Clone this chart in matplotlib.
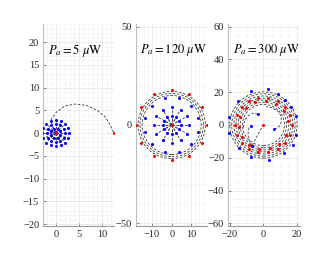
import numpy as np
import matplotlib.pyplot as plt
from matplotlib.patches import Circle
from matplotlib.ticker import MultipleLocator

plt.rcParams['font.family'] = 'Liberation Serif'
plt.rcParams['mathtext.fontset'] = 'stix'

# ---- panel 1 : Pa = 5 uW ----
p1_label = r'$P_a = 5\ \mu\mathrm{W}$'
p1_ring_r = [1.1, 2.0, 2.9]
p1_ring_deg = [
    [22.5, 67.5, 112.5, 157.5, 202.5, 247.5, 292.5, 337.5],
    [0, 30, 60, 90, 120, 150, 180, 210, 240, 270, 300, 330],
    [0, 22.5, 45, 67.5, 90, 112.5, 135, 157.5, 180, 202.5, 225, 247.5, 270, 292.5, 315, 337.5],
]
p1_red_x = [0.0, 12.6]
p1_red_y = [0.0, 0.0]
p1_path_x = [-1.1, 0.2, 2.0, 4.2, 6.7, 8.9, 10.7, 11.8, 12.6]
p1_path_y = [2.9, 4.7, 6.0, 6.4, 6.1, 5.1, 3.6, 1.8, 0.0]

# ---- panel 2 : Pa = 120 uW ----
p2_label = r'$P_a = 120\ \mu\mathrm{W}$'
p2_spoke_deg = [0, 30, 60, 90, 120, 150, 180, 210, 240, 270, 300, 330]
p2_spoke_r = [4.5, 9.0]
p2_outer_deg = [15, 45, 75, 105, 135, 165, 195, 225, 255, 285, 315, 345]
p2_outer_r = 14.0
p2_red_deg = [0, 30, 60, 90, 120, 150, 180, 210, 240, 270, 300, 330]
p2_red_r = 17.9
p2_ring_r = [15.0, 16.1, 17.1]

# ---- panel 3 : Pa = 300 uW ----
p3_label = r'$P_a = 300\ \mu\mathrm{W}$'
p3_blue_x = [2.6, -7.4, -15.5, -20.9, -20.5, -14.8, -7.4, 3.6, 12.6, 17.5, 19.5, 19.5, 16.7, 13.2, 8.6,
             -3.4, 6.6, -7.4, -7.0]
p3_blue_y = [22.0, 20.7, 14.6, 5.1, -5.1, -14.2, -19.3, -21.3, -17.3, -12.5, -6.1, 5.5, 11.0, 15.5, 19.0,
             6.5, -2.6, -0.6, -12.8]
p3_red_in_deg = [10, 35, 60, 85, 110, 135, 160, 185, 210, 235, 260, 285, 310, 335]
p3_red_in_r = 14.8
p3_red_out_deg = [0, 20, 40, 60, 80, 100, 120, 140, 160, 180, 200, 220, 240, 260, 280, 300, 320, 340]
p3_red_out_r = 17.0
p3_ring_r = [12.6, 13.9, 15.2, 16.4, 17.7, 19.0, 20.2]
p3_curves = [
    ([-3.4, -6.0, -8.8, -10.8, -11.8, -12.0], [6.5, 7.2, 6.0, 3.5, 0.5, -2.5]),
    ([6.6, 9.2, 10.8, 10.6, 8.5, 5.0, 1.5], [-2.6, -1.2, 2.0, 5.5, 8.6, 10.6, 11.2]),
    ([-7.0, -8.5, -9.2, -8.6, -7.4], [-12.8, -9.0, -5.0, -1.5, -0.6]),
    ([0.0, -7.0], [0.3, -12.8]),
]

blue = '#0000ff'
red = '#ff0000'
dash = dict(color='#3a3a3a', lw=0.6, ls=(0, (3, 2)))


def polar_xy(r, deg):
    a = np.deg2rad(np.array(deg))
    return r * np.cos(a), r * np.sin(a)


def dots(ax, x, y, c):
    ax.plot(x, y, 'o', color=c, ms=2.2, mew=0, zorder=4)


def style(ax, xlim, ylim, xt, yt, xminor, yminor, label):
    ax.set_xlim(xlim)
    ax.set_ylim(ylim)
    ax.set_xticks(xt)
    ax.set_yticks(yt)
    ax.xaxis.set_minor_locator(MultipleLocator(xminor))
    ax.yaxis.set_minor_locator(MultipleLocator(yminor))
    ax.grid(True, which='major', color='#e4e4e4', lw=0.5)
    ax.grid(True, which='minor', color='#f1f1f1', lw=0.4)
    ax.set_axisbelow(True)
    for s in ['top', 'right']:
        ax.spines[s].set_visible(False)
    ax.spines['left'].set_color('#bdbdbd')
    ax.spines['bottom'].set_color('#9a9a9a')
    ax.spines['left'].set_linewidth(0.8)
    ax.spines['bottom'].set_linewidth(0.8)
    ax.tick_params(which='major', direction='in', length=2, width=0.5, color='#555555',
                   labelsize=7.5, labelcolor='#262626', pad=3)
    ax.tick_params(which='minor', length=0)
    ax.text(0.06, 0.871, label, transform=ax.transAxes, ha='left', va='center', fontsize=9)


fig = plt.figure(figsize=(3.31, 2.59), dpi=100)
ax1 = fig.add_axes([0.131, 0.1274, 0.2145, 0.78])
ax2 = fig.add_axes([0.411, 0.1274, 0.2154, 0.78])
ax3 = fig.add_axes([0.690, 0.1274, 0.2166, 0.78])

# panel 1
for r, deg in zip(p1_ring_r, p1_ring_deg):
    bx, by = polar_xy(r, deg)
    for x, y in zip(bx, by):
        ax1.plot([0, x], [0, y], **dash)
    dots(ax1, bx, by, blue)
ax1.plot(p1_path_x, p1_path_y, **dash)
dots(ax1, p1_red_x, p1_red_y, red)
style(ax1, (-2.7, 12.7), (-20.4, 24.0), [0, 5, 10], np.arange(-20, 25, 5), 1, 1, p1_label)

# panel 2
for r in p2_ring_r:
    ax2.add_patch(Circle((0, 0), r, fill=False, **dash))
for r in p2_spoke_r:
    bx, by = polar_xy(r, p2_spoke_deg)
    for x, y in zip(bx, by):
        ax2.plot([0, x], [0, y], **dash)
    dots(ax2, bx, by, blue)
bx, by = polar_xy(p2_outer_r, p2_outer_deg)
dots(ax2, bx, by, blue)
rx, ry = polar_xy(p2_red_r, p2_red_deg)
dots(ax2, rx, ry, red)
dots(ax2, [0], [0], red)
style(ax2, (-18.1, 18.1), (-51.3, 51.3), [-10, 0, 10], [-50, 0, 50], 2, 10, p2_label)

# panel 3
for r in p3_ring_r:
    ax3.add_patch(Circle((0, 0), r, fill=False, **dash))
for cx, cy in p3_curves:
    ax3.plot(cx, cy, **dash)
dots(ax3, p3_blue_x, p3_blue_y, blue)
rx, ry = polar_xy(p3_red_in_r, p3_red_in_deg)
dots(ax3, rx, ry, red)
rx, ry = polar_xy(p3_red_out_r, p3_red_out_deg)
dots(ax3, rx, ry, red)
dots(ax3, [0], [0.3], red)
style(ax3, (-21.0, 22.0), (-61.6, 61.6), [-20, 0, 20], np.arange(-60, 61, 20), 5, 5, p3_label)

fig.savefig('out.png', dpi=100)
